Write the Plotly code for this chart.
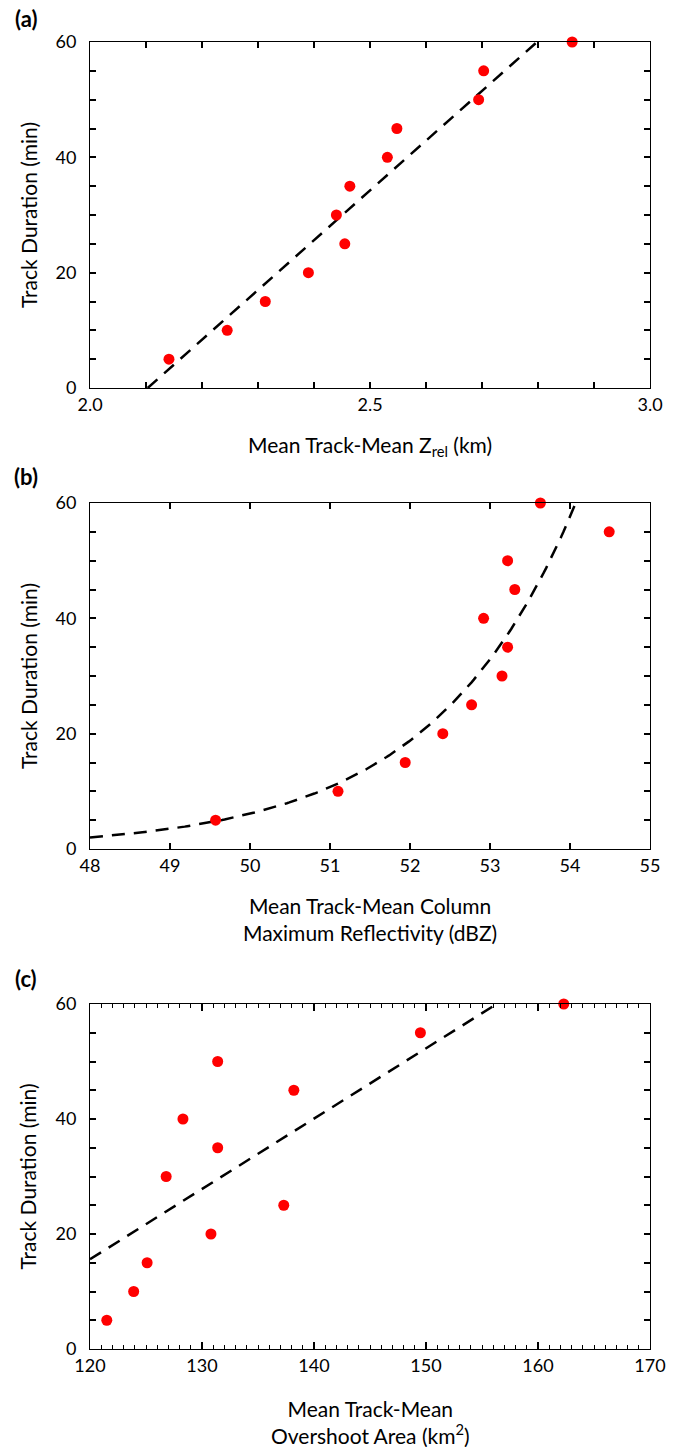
import numpy as np
import plotly.graph_objects as go

# ---------------- data ----------------
duration = [5, 10, 15, 20, 25, 30, 35, 40, 45, 50, 55, 60]

# (a) mean track-mean Z_rel (km)
zrel = [2.141, 2.245, 2.313, 2.390, 2.455, 2.440, 2.464, 2.531, 2.548, 2.694, 2.703, 2.861]
# (b) mean track-mean column maximum reflectivity (dBZ)
refl = [49.57, 51.10, 51.94, 52.41, 52.77, 53.15, 53.22, 52.92, 53.31, 53.22, 54.49, 53.63]
# (c) mean track-mean overshoot area (km2)
area = [121.5, 123.9, 125.1, 130.8, 137.3, 126.8, 131.4, 128.3, 138.2, 131.4, 149.5, 162.3]

# fit parameters
fit_a = dict(slope=86.3, x0=2.103)            # y = slope*(x - x0)
fit_b = dict(amp=2.0, rate=0.56, x0=48.0)     # y = amp*exp(rate*(x - x0))
fit_c = dict(y0=15.6, slope=1.223, x0=120.0)  # y = y0 + slope*(x - x0)

# ---------------- figure ----------------
W, H = 678, 1447
ML, MR, MT, MB = 90, 19, 42, 98
PW, PH = W - ML - MR, H - MT - MB
FONT = "Lato"
TICK = 18
TXT = 21

def pxx(px):
    return (px - ML) / PW

def pxy(px):
    return 1 - (px - MT) / PH

panels = [(42, 388), (503, 849), (1004, 1349)]

fig = go.Figure()

xs_list = [zrel, refl, area]
ax_ids = ["", "2", "3"]

xa = np.linspace(fit_a["x0"], fit_a["x0"] + 60 / fit_a["slope"], 50)
ya = fit_a["slope"] * (xa - fit_a["x0"])
xb = np.linspace(48, 54.2, 200)
yb = fit_b["amp"] * np.exp(fit_b["rate"] * (xb - fit_b["x0"]))
xc = np.linspace(120, fit_c["x0"] + (60 - fit_c["y0"]) / fit_c["slope"], 50)
yc = fit_c["y0"] + fit_c["slope"] * (xc - fit_c["x0"])
fits = [(xa, ya), (xb, yb), (xc, yc)]

for i, (xs, (fx, fy)) in enumerate(zip(xs_list, fits)):
    xr = "x" + ax_ids[i]
    yr = "y" + ax_ids[i]
    fig.add_trace(go.Scatter(x=fx, y=fy, mode="lines", xaxis=xr, yaxis=yr,
                             line=dict(color="black", width=2.5, dash="13px,9px")))
    fig.add_trace(go.Scatter(x=xs, y=duration, mode="markers", xaxis=xr, yaxis=yr,
                             marker=dict(color="#ff0000", size=11), cliponaxis=False))

xranges = [[2.0, 3.0], [48, 55], [120, 170]]
xdticks = [0.5, 1, 10]
xminor = [dict(dtick=0.1, ticks="inside", ticklen=6, tickcolor="black", tickwidth=1.5),
          None,
          dict(dtick=1, ticks="inside", ticklen=4, tickcolor="black", tickwidth=1.3)]
xmajlen = [6, 6, 7]

layout_axes = {}
for i, (top, bot) in enumerate(panels):
    xcfg = dict(domain=[0, 1], range=xranges[i], dtick=xdticks[i], anchor="y" + ax_ids[i],
                showline=True, linecolor="black", mirror="ticks", ticks="inside",
                ticklen=xmajlen[i], tickwidth=1.5, tickcolor="black",
                tickfont=dict(family=FONT, size=TICK, color="black"))
    if i == 0:
        xcfg["tickformat"] = ".1f"
    if xminor[i] is not None:
        xcfg["minor"] = xminor[i]
    ycfg = dict(domain=[pxy(bot), pxy(top)], range=[0, 60], dtick=20, anchor="x" + ax_ids[i],
                showline=True, linecolor="black", mirror="ticks", ticks="inside",
                ticklen=6, tickwidth=1.5, tickcolor="black",
                tickfont=dict(family=FONT, size=TICK, color="black"),
                ticklabelstandoff=9,
                minor=dict(dtick=5, ticks="inside", ticklen=6, tickcolor="black", tickwidth=1.5))
    layout_axes["xaxis" + ax_ids[i]] = xcfg
    layout_axes["yaxis" + ax_ids[i]] = ycfg

annotations = []
labels = ["(a)", "(b)", "(c)"]
label_y = [18, 476, 978]
xtitles = ["Mean Track-Mean Z<sub>rel</sub> (km)",
           "Mean Track-Mean Column<br>Maximum Reflectivity (dBZ)",
           "Mean Track-Mean<br>Overshoot Area (km<sup>2</sup>)"]
xtitle_y = [446, 919, 1422]

for i, (top, bot) in enumerate(panels):
    annotations.append(dict(text="<b>" + labels[i] + "</b>", x=pxx(25), y=pxy(label_y[i]),
                            xref="paper", yref="paper", xanchor="center", yanchor="middle",
                            showarrow=False, font=dict(family=FONT, size=22, color="black")))
    annotations.append(dict(text="Track Duration (min)", x=pxx(27), y=pxy((top + bot) / 2),
                            xref="paper", yref="paper", xanchor="center", yanchor="middle",
                            textangle=-90, showarrow=False,
                            font=dict(family=FONT, size=TXT, color="black")))
    annotations.append(dict(text=xtitles[i], x=pxx(375), y=pxy(xtitle_y[i]),
                            xref="paper", yref="paper", xanchor="center", yanchor="middle",
                            showarrow=False, align="center",
                            font=dict(family=FONT, size=TXT, color="black")))

fig.update_layout(width=W, height=H, margin=dict(l=ML, r=MR, t=MT, b=MB),
                  plot_bgcolor="white", showlegend=False,
                  annotations=annotations, **layout_axes)

fig.write_html("out.html")
